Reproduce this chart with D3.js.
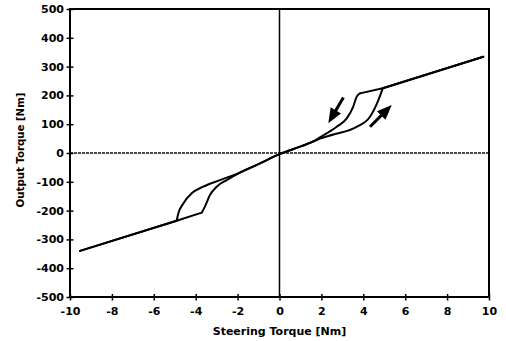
<!DOCTYPE html>
<html>
<head>
<meta charset="utf-8">
<script src="https://cdn.jsdelivr.net/npm/d3@7"></script>
<style>
  html, body { margin: 0; padding: 0; background: #fff; }
  svg { display: block; }
  text { font-family: "DejaVu Sans", sans-serif; font-weight: bold; fill: #000; }
</style>
</head>
<body>
<svg id="chart" width="506" height="341"></svg>
<script>
// ---- data ----
const xTicks = [-10, -8, -6, -4, -2, 0, 2, 4, 6, 8, 10];
const yTicks = [-500, -400, -300, -200, -100, 0, 100, 200, 300, 400, 500];
const xTitle = "Steering Torque [Nm]";
const yTitle = "Output Torque [Nm]";

// loading path (steering torque increasing)
const loadX = [-9.52, -4.91, -3.71, -3.56, -3.32, -3.0, -2.52, -1.89, -0.93, 0, 0.98, 1.61, 1.93, 2.57, 3.68, 4.32, 4.72, 4.93, 9.73];
const loadY = [-340, -235, -207, -186, -146, -117, -94, -68, -36, -4, 22, 40, 50, 64, 91, 126, 184, 225, 334];

// unloading path (steering torque decreasing)
const unloadX = [9.73, 4.93, 3.84, 3.68, 3.52, 3.21, 2.73, 1.93, 1.61, 0.98, 0, -0.93, -1.89, -2.84, -3.64, -4.19, -4.59, -4.83, -4.91, -9.52];
const unloadY = [334, 225, 207, 195, 161, 120, 91, 54, 40, 22, -4, -36, -68, -94, -117, -140, -175, -210, -235, -340];

// direction arrows [tailX, tailY, tipX, tipY]
const arrowDown = [3.05, 193, 2.33, 103];
const arrowUp = [4.32, 91, 5.36, 167];

// ---- chart ----
const svg = d3.select("#chart");
const L = 70, R = 489, T = 9, B = 297;
const x = d3.scaleLinear().domain([-10, 10]).range([L, R]);
const y = d3.scaleLinear().domain([-500, 500]).range([B, T]);

// zero lines
svg.append("line")
  .attr("x1", x(-10)).attr("x2", x(10)).attr("y1", y(0)).attr("y2", y(0))
  .attr("stroke", "#111").attr("stroke-width", 1.5).attr("stroke-dasharray", "3,1");
svg.append("line")
  .attr("x1", x(0)).attr("x2", x(0)).attr("y1", y(-500)).attr("y2", y(500))
  .attr("stroke", "#000").attr("stroke-width", 1.5);

// frame
svg.append("rect")
  .attr("x", L).attr("y", T).attr("width", R - L).attr("height", B - T)
  .attr("fill", "none").attr("stroke", "#000").attr("stroke-width", 2);

// axes
const yAxis = svg.append("g").attr("transform", `translate(${L},0)`)
  .call(d3.axisLeft(y).tickValues(yTicks).tickFormat(d => String(d)).tickSize(4).tickPadding(2));
yAxis.select(".domain").remove();
yAxis.selectAll(".tick line").attr("x1", 3.5).attr("x2", -3.5).attr("stroke-width", 1.5);
yAxis.selectAll(".tick text").attr("x", -6).attr("font-size", 11)
  .style("font-family", "'DejaVu Sans', sans-serif").style("font-weight", "bold");

const xAxis = svg.append("g").attr("transform", `translate(0,${B})`)
  .call(d3.axisBottom(x).tickValues(xTicks).tickFormat(d => String(d)).tickSize(4).tickPadding(2));
xAxis.select(".domain").remove();
xAxis.selectAll(".tick line").attr("y1", -3).attr("y2", 3.5).attr("stroke-width", 1.5);
xAxis.selectAll(".tick text").attr("y", 10).attr("font-size", 11)
  .style("font-family", "'DejaVu Sans', sans-serif").style("font-weight", "bold");

// titles
svg.append("text")
  .attr("x", (L + R) / 2).attr("y", 335)
  .attr("text-anchor", "middle").attr("font-size", 11)
  .text(xTitle);
svg.append("text")
  .attr("transform", `translate(24,${(T + B) / 2 - 3}) rotate(-90)`)
  .attr("text-anchor", "middle").attr("font-size", 10.2)
  .text(yTitle);

// curves: straight outer segments, smooth loop section between the corners
const straight = d3.line().x(d => x(d[0])).y(d => y(d[1])).curve(d3.curveLinear);
const smooth = d3.line().x(d => x(d[0])).y(d => y(d[1])).curve(d3.curveMonotoneX);
function drawPath(xs, ys, startCorner, endCorner) {
  const pts = xs.map((v, i) => [v, ys[i]]);
  const pieces = [
    [straight, pts.slice(0, startCorner + 1)],
    [smooth, pts.slice(startCorner, endCorner + 1)],
    [straight, pts.slice(endCorner)]
  ];
  pieces.forEach(([gen, p]) => {
    svg.append("path").attr("d", gen(p))
      .attr("fill", "none").attr("stroke", "#000").attr("stroke-width", 2)
      .attr("stroke-linejoin", "round").attr("stroke-linecap", "round");
  });
}
drawPath(loadX, loadY, 2, loadX.length - 2);
drawPath(unloadX, unloadY, 2, unloadX.length - 2);

// arrows
function arrow(a) {
  const x0 = x(a[0]), y0 = y(a[1]), x1 = x(a[2]), y1 = y(a[3]);
  const dx = x1 - x0, dy = y1 - y0, len = Math.hypot(dx, dy);
  const ux = dx / len, uy = dy / len, px = -uy, py = ux;
  const hl = 15, hw = 6;
  const bx = x1 - ux * hl, by = y1 - uy * hl;
  svg.append("line").attr("x1", x0).attr("y1", y0).attr("x2", bx + ux * 2).attr("y2", by + uy * 2)
    .attr("stroke", "#000").attr("stroke-width", 3);
  svg.append("path")
    .attr("d", `M${x1},${y1}L${bx + px * hw},${by + py * hw}L${bx - px * hw},${by - py * hw}Z`)
    .attr("fill", "#000");
}
arrow(arrowDown);
arrow(arrowUp);
</script>
</body>
</html>
